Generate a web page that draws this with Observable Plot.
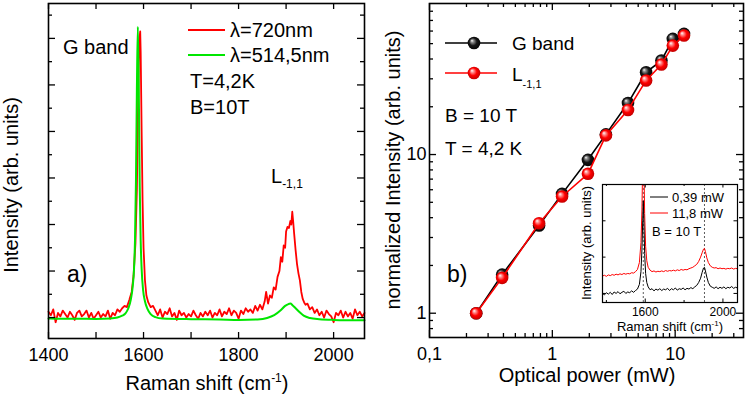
<!DOCTYPE html>
<html><head><meta charset="utf-8">
<script src="https://cdn.jsdelivr.net/npm/d3@7"></script>
<script src="https://cdn.jsdelivr.net/npm/@observablehq/plot@0.6"></script>
<style>
body{margin:0;background:#fff;}
#wrap{position:relative;width:747px;height:398px;overflow:hidden;}
#wrap svg{position:absolute;}
</style></head><body><div id="wrap"></div>
<script>
const FONT = '"Liberation Sans", Arial, Helvetica, sans-serif';

// ---------- Panel a: Raman spectra (shift cm-1, intensity arb.) ----------
const spec720 = [[1400,1.25],[1405,1.1],[1410,1.35],[1415,0.8],[1420,1.2],[1425,1.05],[1430,1.3],[1435,1.15],[1440,1.0],[1445,1.25],[1450,1.1],[1455,0.9],[1460,1.2],[1465,1.3],[1470,1.05],[1475,1.15],[1480,1.3],[1485,1.0],[1490,1.2],[1495,0.95],[1500,1.1],[1505,1.25],[1510,1.0],[1515,1.15],[1520,1.05],[1525,1.3],[1530,0.95],[1535,1.2],[1540,1.1],[1545,1.35],[1550,1.25],[1555,1.4],[1560,1.5],[1565,1.45],[1570,1.75],[1575,2.1],[1579,2.8],[1583,4.2],[1586,6.5],[1588,9.5],[1590,12.0],[1592,13.1],[1593,13.3],[1594,12.4],[1596,9.0],[1598,6.0],[1600,4.0],[1603,2.6],[1606,1.95],[1610,1.65],[1615,1.45],[1620,1.5],[1625,1.3],[1630,1.1],[1635,1.35],[1640,1.0],[1645,1.25],[1650,1.15],[1655,1.4],[1660,1.05],[1665,1.2],[1670,0.9],[1675,1.3],[1680,1.1],[1685,1.2],[1690,1.0],[1695,1.15],[1700,1.05],[1705,1.3],[1710,1.1],[1715,0.95],[1720,1.2],[1725,1.05],[1730,1.25],[1735,1.1],[1740,1.3],[1745,1.0],[1750,1.2],[1755,1.1],[1760,1.35],[1765,1.05],[1770,1.25],[1775,1.15],[1780,1.4],[1785,1.1],[1790,1.3],[1795,1.2],[1800,0.95],[1805,1.3],[1810,1.15],[1815,1.4],[1820,1.25],[1825,1.35],[1830,1.2],[1835,1.5],[1840,1.3],[1845,1.55],[1850,1.35],[1855,1.7],[1858,2.1],[1862,1.6],[1866,1.95],[1870,1.85],[1874,2.3],[1878,2.2],[1882,2.75],[1886,3.0],[1889,3.6],[1892,3.4],[1895,4.1],[1898,4.0],[1900,4.7],[1903,4.9],[1906,4.85],[1909,5.15],[1911,5.0],[1913,5.55],[1915,5.1],[1917,4.6],[1920,3.9],[1923,3.3],[1926,2.9],[1929,2.6],[1932,2.1],[1935,1.8],[1938,1.65],[1941,1.55],[1945,1.6],[1950,1.35],[1955,1.45],[1960,1.2],[1965,1.35],[1970,1.1],[1975,1.25],[1980,1.0],[1985,1.3],[1990,1.15],[1995,1.05],[2000,0.8],[2005,1.2],[2010,1.1],[2015,1.3],[2020,1.0],[2025,1.25],[2030,1.05],[2035,1.2],[2040,0.95],[2045,1.35],[2050,1.1],[2055,1.25],[2060,1.05],[2065,1.2]];
const spec514 = [[1400,0.96],[1430,0.95],[1460,0.95],[1500,0.94],[1530,0.96],[1545,1.0],[1555,1.08],[1562,1.18],[1568,1.4],[1573,1.75],[1577,2.3],[1580,3.1],[1582,4.3],[1584,6.8],[1586,10.8],[1588,13.5],[1590,10.8],[1592,6.6],[1594,4.3],[1596,3.1],[1599,2.2],[1603,1.7],[1608,1.38],[1615,1.15],[1625,1.02],[1640,0.96],[1700,0.93],[1760,0.92],[1800,0.9],[1840,0.92],[1860,0.98],[1875,1.1],[1888,1.3],[1898,1.5],[1905,1.58],[1909,1.6],[1914,1.52],[1920,1.4],[1928,1.24],[1937,1.08],[1950,0.98],[1970,0.93],[2000,0.9],[2065,0.88]];
const aXTicks = [1400,1500,1600,1700,1800,1900,2000];
const aXLabels = [1400,1600,1800,2000];
const aYLong = [1,3,5,7,9,11,13];
const aYShort = [2,4,6,8,10,12,14];

// ---------- Panel b: normalized intensity vs optical power ----------
const powerMW   = [0.24, 0.39, 0.78, 1.2, 1.95, 2.73, 4.13, 5.8, 7.73, 9.57, 11.8];
const gBandNorm = [1, 1.75, 3.57, 5.65, 9.26, 13.4, 21.1, 33, 39.1, 53.6, 57.6];
const lNorm     = [1, 1.67, 3.69, 5.44, 7.56, 13.2, 19.1, 29.3, 36.9, 48.6, 56.2];
const bXMajor = [0.1, 1, 10];
const bXMinor = [0.2,0.3,0.4,0.5,0.6,0.7,0.8,0.9,2,3,4,5,6,7,8,9,20,30];
const bYMajor = [1, 10];
const bYMinor = [0.8,0.9,2,3,4,5,6,7,8,9,20,30,40,50,60,70,80];

// ---------- Inset: spectra at two powers ----------
const insetLow = [[1380,1.0],[1390,0.96],[1400,1.02],[1410,0.98],[1420,1.03],[1430,0.97],[1440,1.04],[1450,1.0],[1460,1.05],[1470,0.99],[1480,1.03],[1490,1.06],[1500,1.0],[1510,1.04],[1520,1.02],[1530,1.07],[1540,1.03],[1550,1.08],[1560,1.12],[1570,1.25],[1578,1.6],[1583,2.2],[1587,3.0],[1590,3.55],[1593,3.0],[1597,2.1],[1602,1.55],[1608,1.3],[1615,1.18],[1625,1.1],[1635,1.13],[1645,1.07],[1655,1.12],[1665,1.09],[1675,1.13],[1685,1.08],[1695,1.12],[1705,1.1],[1715,1.14],[1725,1.08],[1735,1.13],[1745,1.1],[1755,1.15],[1765,1.09],[1775,1.13],[1785,1.11],[1795,1.15],[1805,1.1],[1815,1.14],[1825,1.12],[1835,1.16],[1845,1.13],[1855,1.18],[1865,1.22],[1875,1.3],[1885,1.42],[1893,1.58],[1900,1.7],[1905,1.72],[1910,1.62],[1917,1.45],[1925,1.3],[1935,1.2],[1945,1.17],[1955,1.14],[1965,1.18],[1975,1.13],[1985,1.17],[1995,1.14],[2005,1.18],[2015,1.13],[2025,1.17],[2035,1.15],[2045,1.19],[2055,1.14],[2065,1.17],[2075,1.15]];
const insetHigh = [[1380,1.48],[1390,1.5],[1400,1.47],[1410,1.51],[1420,1.49],[1430,1.52],[1440,1.5],[1450,1.53],[1460,1.51],[1470,1.54],[1480,1.52],[1490,1.55],[1500,1.53],[1510,1.55],[1520,1.54],[1530,1.57],[1540,1.56],[1550,1.6],[1560,1.66],[1570,1.85],[1578,2.4],[1583,3.3],[1587,4.6],[1590,5.5],[1593,4.6],[1597,3.2],[1602,2.3],[1608,1.9],[1615,1.72],[1625,1.64],[1635,1.6],[1645,1.62],[1655,1.59],[1665,1.61],[1675,1.6],[1685,1.62],[1695,1.6],[1705,1.63],[1715,1.61],[1725,1.63],[1735,1.62],[1745,1.64],[1755,1.62],[1765,1.65],[1775,1.63],[1785,1.66],[1795,1.64],[1805,1.66],[1815,1.65],[1825,1.68],[1835,1.7],[1845,1.72],[1855,1.76],[1865,1.8],[1875,1.88],[1885,2.0],[1893,2.12],[1900,2.22],[1905,2.24],[1910,2.15],[1917,1.98],[1925,1.85],[1935,1.76],[1945,1.72],[1955,1.7],[1965,1.71],[1975,1.68],[1985,1.7],[1995,1.68],[2005,1.69],[2015,1.67],[2025,1.69],[2035,1.68],[2045,1.7],[2055,1.67],[2065,1.69],[2075,1.68]];
const insetPeaks = [1590, 1905];
const insetXLabels = [1600, 2000];
const insetXMinor = [1400, 1800];
const insetYTicks = [1, 2, 3];

const wrap = document.getElementById("wrap");
const H = 398;
const fmt = d => String(d).replace(".", ",");

function frameTicks(xs, ys, fw, fh, xl, yl, sw) {
  const o = {stroke: "black", strokeWidth: sw};
  const m = [];
  if (xs) {
    m.push(Plot.tickX(xs, {...o, x: d => d, insetTop: fh - xl}));
    m.push(Plot.tickX(xs, {...o, x: d => d, insetBottom: fh - xl}));
  }
  if (ys) {
    m.push(Plot.tickY(ys, {...o, y: d => d, insetRight: fw - yl}));
    m.push(Plot.tickY(ys, {...o, y: d => d, insetLeft: fw - yl}));
  }
  return m;
}

function addText(svg, x, y, parts, {size = 20, anchor = "start", rotate = 0} = {}) {
  const t = d3.select(svg).append("text")
    .attr("x", x).attr("y", y).attr("font-size", size).attr("text-anchor", anchor)
    .attr("fill", "black").attr("font-family", FONT).attr("stroke", "none");
  if (rotate) t.attr("transform", `rotate(${rotate},${x},${y})`);
  let cur = 0;
  for (const p of parts) {
    const [str, shift = 0, sz = size] = typeof p === "string" ? [p] : p;
    const s = t.append("tspan").attr("font-size", sz).text(str);
    if (shift !== cur) { s.attr("dy", shift - cur); cur = shift; }
  }
  return t;
}
function place(svg, left, top) {
  svg.style.left = left + "px"; svg.style.top = top + "px";
  wrap.appendChild(svg);
}

// ---------- Panel a ----------
{
  const W = 380, m = {t: 3, r: 16, b: 60, l: 48};
  const fw = W - m.l - m.r, fh = H - m.t - m.b;
  const svg = Plot.plot({
    width: W, height: H, marginTop: m.t, marginRight: m.r, marginBottom: m.b, marginLeft: m.l,
    style: {fontFamily: FONT, fontSize: "18px", color: "black", background: "transparent"},
    x: {domain: [1400, 2065], axis: null},
    y: {domain: [0.1, 14.5], axis: null},
    marks: [
      Plot.line(spec720, {x: d => d[0], y: d => d[1], stroke: "#ff0000", strokeWidth: 1.8}),
      Plot.line(spec514, {x: d => d[0], y: d => d[1], stroke: "#00e600", strokeWidth: 2, curve: "monotone-x"}),
      ...frameTicks(aXTicks, null, fw, fh, 6, 0, 1.3),
      ...frameTicks(null, aYLong, fw, fh, 0, 7, 1.3),
      ...frameTicks(null, aYShort, fw, fh, 0, 4, 1.3),
      Plot.frame({stroke: "black", strokeWidth: 1.6}),
      Plot.axisX(aXLabels, {tickSize: 0, tickPadding: 10, tickFormat: d => String(d), fontSize: 18, label: null})
    ]
  });
  const s = d3.select(svg);
  s.append("line").attr("x1", 188).attr("x2", 225).attr("y1", 30).attr("y2", 30).attr("stroke", "#ff0000").attr("stroke-width", 2);
  s.append("line").attr("x1", 188).attr("x2", 225).attr("y1", 55).attr("y2", 55).attr("stroke", "#00e600").attr("stroke-width", 2);
  addText(svg, 230, 37, ["λ=720nm"]);
  addText(svg, 230, 62, ["λ=514,5nm"]);
  addText(svg, 190, 88, ["T=4,2K"]);
  addText(svg, 190, 114, ["B=10T"]);
  addText(svg, 63, 54, ["G band"]);
  addText(svg, 271, 183, ["L", ["-1,1", 5, 12]]);
  addText(svg, 67, 282, ["a)"], {size: 23});
  addText(svg, 18, 185, ["Intensity (arb. units)"], {anchor: "middle", rotate: -90});
  addText(svg, 207, 390, ["Raman shift (cm", ["-1", -8, 12], [")", 0, 20]], {anchor: "middle"});
  place(svg, 0, 0);
}

// ---------- Panel b ----------
{
  const W = 367, m = {t: 3, r: 4, b: 61, l: 49};
  const fw = W - m.l - m.r, fh = H - m.t - m.b;
  const table = powerMW.map((p, i) => ({p, g: gBandNorm[i], l: lNorm[i]}));
  const svg = Plot.plot({
    width: W, height: H, marginTop: m.t, marginRight: m.r, marginBottom: m.b, marginLeft: m.l,
    style: {fontFamily: FONT, fontSize: "18px", color: "black", background: "transparent"},
    x: {type: "log", domain: [0.1, 36], axis: null, label: null},
    y: {type: "log", domain: [0.703, 89.5], axis: null, label: null},
    marks: [
      ...frameTicks(bXMajor, null, fw, fh, 7, 0, 1.3),
      ...frameTicks(bXMinor, null, fw, fh, 4, 0, 1.3),
      ...frameTicks(null, bYMajor, fw, fh, 0, 7, 1.3),
      ...frameTicks(null, bYMinor, fw, fh, 0, 4, 1.3),
      Plot.frame({stroke: "black", strokeWidth: 1.6}),
      Plot.axisX(bXMajor, {tickSize: 0, tickPadding: 10, tickFormat: fmt, fontSize: 18, label: null}),
      Plot.axisY(bYMajor, {tickSize: 0, tickPadding: 3, tickFormat: fmt, fontSize: 18, label: null}),
      Plot.line(table, {x: "p", y: "g", stroke: "black", strokeWidth: 1.6}),
      Plot.dot(table, {x: "p", y: "g", r: 6.3, fill: "url(#sphBlack)", stroke: "none"}),
      Plot.line(table, {x: "p", y: "l", stroke: "#ff0000", strokeWidth: 1.6}),
      Plot.dot(table, {x: "p", y: "l", r: 6.3, fill: "url(#sphRed)", stroke: "none"})
    ]
  });
  const s = d3.select(svg);
  s.insert("defs", ":first-child").html(`
    <radialGradient id="sphRed" cx="0.5" cy="0.5" r="0.55" fx="0.33" fy="0.3">
      <stop offset="0" stop-color="#ffffff"/>
      <stop offset="0.22" stop-color="#ff9090"/>
      <stop offset="0.55" stop-color="#ff0000"/>
      <stop offset="1" stop-color="#b80000"/>
    </radialGradient>
    <radialGradient id="sphBlack" cx="0.5" cy="0.5" r="0.55" fx="0.33" fy="0.3">
      <stop offset="0" stop-color="#ffffff"/>
      <stop offset="0.2" stop-color="#909090"/>
      <stop offset="0.55" stop-color="#151515"/>
      <stop offset="1" stop-color="#000000"/>
    </radialGradient>`);
  s.append("line").attr("x1", 65).attr("x2", 117).attr("y1", 43).attr("y2", 43).attr("stroke", "black").attr("stroke-width", 1.6);
  s.append("circle").attr("cx", 94).attr("cy", 43).attr("r", 6.3).attr("fill", "url(#sphBlack)");
  s.append("line").attr("x1", 65).attr("x2", 117).attr("y1", 73).attr("y2", 73).attr("stroke", "#ff0000").attr("stroke-width", 1.6);
  s.append("circle").attr("cx", 94).attr("cy", 73).attr("r", 6.3).attr("fill", "url(#sphRed)");
  addText(svg, 132, 50, ["G band"], {size: 19});
  addText(svg, 132, 81, ["L", ["-1,1", 7, 11]], {size: 19});
  addText(svg, 65, 122, ["B = 10 T"], {size: 19});
  addText(svg, 65, 155, ["T = 4,2 K"], {size: 19});
  addText(svg, 67, 282, ["b)"], {size: 23});
  addText(svg, 19.5, 170, ["normalized Intensity (arb. units)"], {anchor: "middle", rotate: -90});
  addText(svg, 207, 382, ["Optical power (mW)"], {anchor: "middle"});
  place(svg, 380, 0);
}

// ---------- Inset ----------
{
  const W = 170, IH = 153, m = {t: 1, r: 3, b: 34, l: 32};
  const fw = W - m.l - m.r, fh = IH - m.t - m.b;
  const svg = Plot.plot({
    width: W, height: IH, marginTop: m.t, marginRight: m.r, marginBottom: m.b, marginLeft: m.l,
    style: {fontFamily: FONT, fontSize: "11px", color: "black", background: "transparent"},
    x: {domain: [1380, 2075], axis: null},
    y: {domain: [0.75, 4], axis: null},
    marks: [
      Plot.frame({fill: "white", stroke: "none"}),
      Plot.ruleX(insetPeaks, {x: d => d, stroke: "#333", strokeWidth: 0.8, strokeDasharray: "2,2"}),
      Plot.line(insetHigh, {x: d => d[0], y: d => d[1], stroke: "#ff0000", strokeWidth: 1, clip: true}),
      Plot.line(insetLow, {x: d => d[0], y: d => d[1], stroke: "black", strokeWidth: 1, clip: true}),
      ...frameTicks(insetXLabels, null, fw, fh, 3.5, 0, 1),
      ...frameTicks(insetXMinor, null, fw, fh, 2, 0, 1),
      ...frameTicks(null, insetYTicks, fw, fh, 0, 3.5, 1),
      Plot.frame({stroke: "black", strokeWidth: 1.2}),
      Plot.axisX(insetXLabels, {tickSize: 0, tickPadding: 5, tickFormat: d => String(d), fontSize: 12, label: null})
    ]
  });
  const s = d3.select(svg);
  s.append("line").attr("x1", 80).attr("x2", 98).attr("y1", 14).attr("y2", 14).attr("stroke", "black").attr("stroke-width", 1);
  s.append("line").attr("x1", 80).attr("x2", 98).attr("y1", 30).attr("y2", 30).attr("stroke", "#ff0000").attr("stroke-width", 1);
  addText(svg, 102, 18.5, ["0,39 mW"], {size: 13});
  addText(svg, 102, 34.5, ["11,8 mW"], {size: 13});
  addText(svg, 82, 52.5, ["B = 10 T"], {size: 13});
  addText(svg, 21, 60, ["Intensity (arb. units)"], {size: 13, anchor: "middle", rotate: -90});
  addText(svg, 100, 148, ["Raman shift (cm", ["-1", -5, 8], [")", 0, 13]], {size: 13, anchor: "middle"});
  place(svg, 570, 183);
}
</script></body></html>
